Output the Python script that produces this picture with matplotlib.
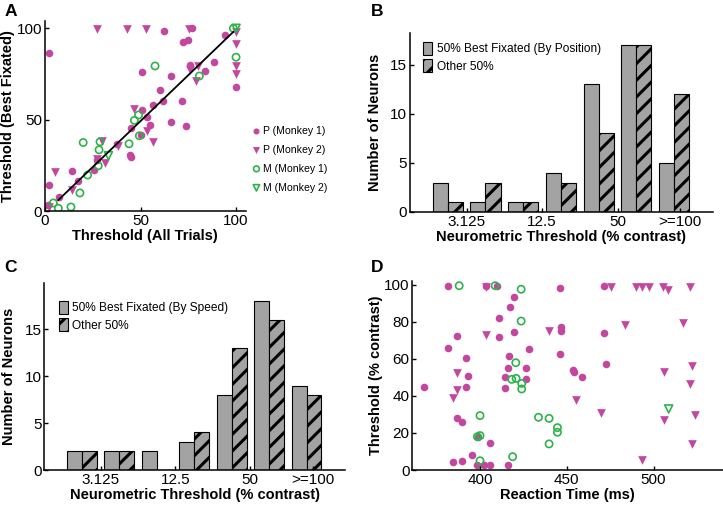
import numpy as np
import matplotlib
matplotlib.use("Agg")
import matplotlib.pyplot as plt
from matplotlib.patches import Patch

plt.rcParams['font.family'] = ['Liberation Sans', 'DejaVu Sans']
plt.rcParams['hatch.linewidth'] = 2.2

MAG = '#c4479f'
GRN = '#2db34a'
GRAY = '#a3a3a3'

# ---- Panel A: threshold best fixated vs all trials
a_p1_x = [2.3, 2.3, 1.5, 7.5, 14, 17.5, 27.2, 25.8, 37.9, 44.5, 44.8, 45, 50, 50.6, 50.6,
          53.2, 55, 56.7, 60.2, 61.6, 62.3, 65.8, 65.8, 71.9, 72.1, 74.7, 73.8, 75.9,
          77.1, 84, 88.7, 94.2, 100]
a_p1_y = [86.4, 14.5, 3.5, 7.7, 21.7, 16.4, 27.9, 22.4, 36.8, 30.5, 29.5, 45.4, 41.4,
          76.3, 55.5, 51.5, 47.2, 58.3, 66, 60.1, 98.3, 48.5, 73.9, 60.1, 92.3, 93.8,
          46.5, 80, 100, 76.5, 81.8, 96.5, 68]
a_p2_x = [27, 43.1, 52.7, 75.6, 100, 100, 100, 100, 5.2, 14, 30, 31.4, 38.4, 46.6, 53.6,
          56.7, 76, 79, 80.1, 27, 2]
a_p2_y = [99.6, 99.6, 99.6, 99.6, 97.8, 91.7, 79.4, 74.8, 21.1, 11.4, 38.6, 26.1, 35.8,
          56, 43.9, 38, 77.4, 71.2, 79.4, 28.3, 2.2]
a_m1_x = [20, 22.3, 18.3, 13.6, 7, 4.4, 28.3, 28.8, 27.9, 44, 46.8, 49, 49.4, 57.6,
          80.8, 100, 98.6]
a_m1_y = [37.5, 19.7, 9.9, 2.2, 1.5, 4.4, 33.5, 37.9, 24.8, 36.8, 49.6, 52.6, 41.2,
          79.4, 73.9, 84.2, 100]
a_m2_x = [33.2, 100]
a_m2_y = [30.3, 100]
fit_x = [7, 98.5]
fit_y = [6, 98]

# ---- Panels B and C: histograms of neurometric threshold
bin_pos = np.arange(7)
tick_pos = [0.5, 2.5, 4.5, 6.16]
tick_labels = ['3.125', '12.5', '50', '>=100']
b_best = [3, 1, 1, 4, 13, 17, 5]
b_other = [1, 3, 1, 3, 8, 17, 12]
c_best = [2, 2, 2, 3, 8, 18, 9]
c_other = [2, 2, 0, 4, 13, 16, 8]

# ---- Panel D: threshold vs reaction time
d_p1_x = [367.9, 381.3, 381.3, 386.9, 386.9, 389.4, 391.9, 392.9, 391.9, 384.6, 389.4,
          395.6, 398.5, 398.7, 403.5, 409.6, 402.5, 405.8, 405.8, 411.2, 411.2, 414.4,
          414.4, 416, 416.9, 417.3, 419.8, 419.8, 416, 426.5, 426.5, 428, 446.2, 446.7,
          446.7, 446.2, 453.8, 454.2, 458.8, 471.2, 471.7, 472.7]
d_p1_y = [45, 99.6, 65.8, 72.4, 27.9, 26.1, 60.7, 50.8, 45, 4.5, 4.9, 8.1, 2.7, 18,
          99.6, 99.6, 2.7, 2.7, 14.8, 82, 71.7, 50.5, 44.5, 55, 61.6, 88.3, 93.7, 74.8,
          2.7, 55, 49, 65.4, 98.6, 77.1, 75.3, 62.5, 54.1, 52.8, 50.5, 99.5, 73.9, 57.3]
d_p2_x = [386.9, 386.9, 384.2, 403.5, 403.5, 439.8, 455.5, 469.6, 475.4, 483.7, 490,
          493.3, 497.1, 505.4, 508.1, 521.2, 505.8, 505.8, 516.7, 522.1, 521.2, 524,
          522.1, 493.3]
d_p2_y = [52.6, 43.2, 38.7, 73, 99, 75.1, 37.8, 30.6, 99, 78.4, 99, 99, 99, 99, 97.3,
          99, 53.2, 27, 79.3, 56.2, 46.3, 29.7, 13.9, 5.4]
d_m1_x = [388, 408.7, 400, 400, 400, 418.8, 420.6, 420.8, 418.3, 424, 424, 423.7, 423.7,
          433.7, 439.8, 439.8, 444.6, 444.6, 398.5]
d_m1_y = [99.6, 99.6, 29.4, 18.6, 5, 7.2, 58, 49.5, 49, 46.8, 43.8, 97.7, 80.5, 28.5,
          27.9, 14.1, 22.9, 20.4, 18]
d_m2_x = [508.7]
d_m2_y = [33]

LABEL_FS = 10.5


def style_axes(ax):
    for s in ['top', 'right']:
        ax.spines[s].set_visible(False)
    for s in ['left', 'bottom']:
        ax.spines[s].set_linewidth(1.1)
    ax.tick_params(direction='in', length=3, width=1, labelsize=11, pad=2)


def scatter_groups(ax, p1, p2, m1, m2, size=30):
    h1 = ax.scatter(*p1, s=size, marker='o', color=MAG, linewidths=0, label='P (Monkey 1)')
    h2 = ax.scatter(*p2, s=size * 1.3, marker='v', color=MAG, linewidths=0, label='P (Monkey 2)')
    h3 = ax.scatter(*m1, s=size * 0.9, marker='o', facecolors='none', edgecolors=GRN,
                    linewidths=1.2, label='M (Monkey 1)')
    h4 = ax.scatter(*m2, s=size * 1.1, marker='v', facecolors='none', edgecolors=GRN,
                    linewidths=1.2, label='M (Monkey 2)')
    return [h1, h2, h3, h4]


def histo(ax, best, other, ymax):
    ax.bar(bin_pos - 0.2, best, 0.4, color=GRAY, edgecolor='black', linewidth=0.8)
    ax.bar(bin_pos + 0.2, other, 0.4, color=GRAY, edgecolor='black', linewidth=0.8, hatch='//')
    ax.set_xlim(-1, 7.03)
    ax.set_ylim(0, ymax)
    ax.set_yticks([0, 5, 10, 15])
    ax.set_xticks(tick_pos)
    ax.set_xticklabels(tick_labels)
    ax.set_xlabel('Neurometric Threshold (% contrast)', fontsize=LABEL_FS, fontweight='bold', labelpad=1)
    ax.set_ylabel('Number of Neurons', fontsize=LABEL_FS, fontweight='bold', labelpad=6)
    style_axes(ax)
    handles = [Patch(facecolor=GRAY, edgecolor='black', linewidth=0.8),
               Patch(facecolor=GRAY, edgecolor='black', linewidth=0.8, hatch='//')]
    return handles


fig = plt.figure(figsize=(7.23, 5.08), dpi=100)

# Panel A
axA = fig.add_axes([0.0622, 0.5846, 0.2775, 0.374])
hs = scatter_groups(axA, (a_p1_x, a_p1_y), (a_p2_x, a_p2_y), (a_m1_x, a_m1_y), (a_m2_x, a_m2_y))
axA.plot(fit_x, fit_y, color='black', lw=1.3)
axA.set_xlim(0, 105)
axA.set_ylim(0, 104)
axA.set_xticks([0, 50, 100])
axA.set_yticks([0, 50, 100])
axA.set_xlabel('Threshold (All Trials)', fontsize=LABEL_FS, fontweight='bold', labelpad=1)
axA.set_ylabel('Threshold (Best Fixated)', fontsize=LABEL_FS, fontweight='bold', labelpad=1)
style_axes(axA)
axA.legend(handles=hs, loc='upper left', bbox_to_anchor=(0.343, 0.763),
           bbox_transform=fig.transFigure, frameon=False, fontsize=7.6,
           handlelength=0.6, handletextpad=0.35, labelspacing=0.85, borderpad=0,
           markerscale=0.8)

# Panel B
axB = fig.add_axes([0.5671, 0.5827, 0.419, 0.352])
hB = histo(axB, b_best, b_other, 18.2)
axB.legend(hB, ['50% Best Fixated (By Position)', 'Other 50%'], loc='upper left',
           bbox_to_anchor=(0.577, 0.93), bbox_transform=fig.transFigure, frameon=False,
           fontsize=8.6, handlelength=0.75, handleheight=1.3, handletextpad=0.4,
           labelspacing=0.35, borderpad=0)

# Panel C
axC = fig.add_axes([0.0613, 0.0748, 0.416, 0.3675])
hC = histo(axC, c_best, c_other, 19.9)
axC.legend(hC, ['50% Best Fixated (By Speed)', 'Other 50%'], loc='upper left',
           bbox_to_anchor=(0.073, 0.42), bbox_transform=fig.transFigure, frameon=False,
           fontsize=8.6, handlelength=0.75, handleheight=1.3, handletextpad=0.4,
           labelspacing=0.35, borderpad=0)

# Panel D
axD = fig.add_axes([0.5703, 0.0748, 0.4297, 0.3715])
scatter_groups(axD, (d_p1_x, d_p1_y), (d_p2_x, d_p2_y), (d_m1_x, d_m1_y), (d_m2_x, d_m2_y))
axD.set_xlim(361, 540)
axD.set_ylim(0, 102)
axD.set_xticks([400, 450, 500])
axD.set_yticks([0, 20, 40, 60, 80, 100])
axD.set_xlabel('Reaction Time (ms)', fontsize=LABEL_FS, fontweight='bold', labelpad=1)
axD.set_ylabel('Threshold (% contrast)', fontsize=LABEL_FS, fontweight='bold', labelpad=1)
style_axes(axD)

# Panel letters
for letter, (x, y) in zip('ABCD', [(0.006, 0.993), (0.513, 0.993), (0.006, 0.488), (0.513, 0.488)]):
    fig.text(x, y, letter, fontsize=12.5, fontweight='bold', va='top', ha='left')

fig.savefig('out.png', dpi=100)
